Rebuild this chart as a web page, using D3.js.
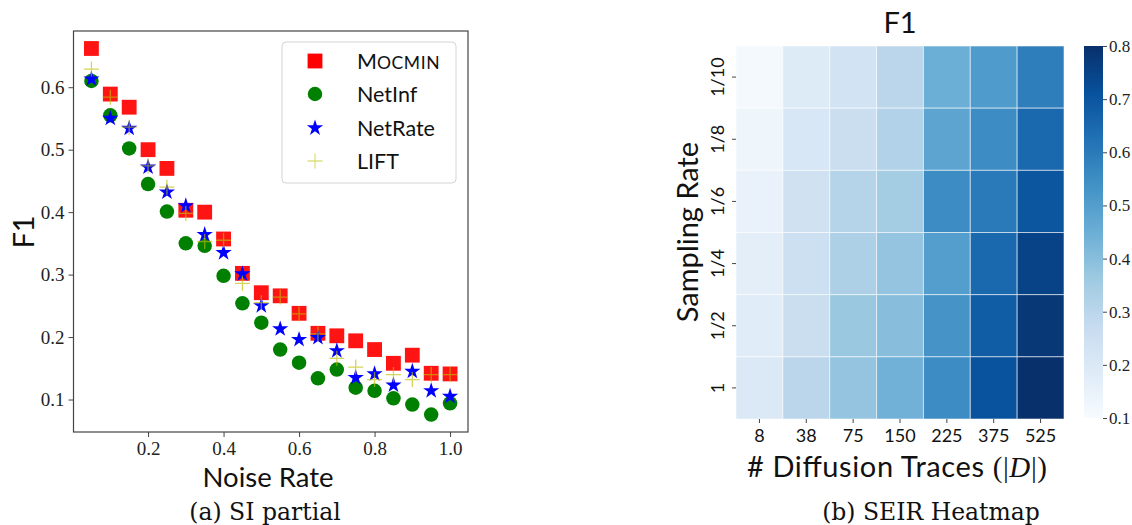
<!DOCTYPE html>
<html><head><meta charset="utf-8">
<script src="https://cdn.jsdelivr.net/npm/d3@7"></script>
<style>body{margin:0;background:#fff} svg{display:block}</style>
</head><body>
<svg id="c" width="1132" height="525"></svg>
<script>
// ---------- data: left panel (SI partial) ----------
const noiseRates = [0.05,0.10,0.15,0.20,0.25,0.30,0.35,0.40,0.45,0.50,0.55,0.60,0.65,0.70,0.75,0.80,0.85,0.90,0.95,1.00];
const mocmin  = [0.662,0.589,0.568,0.500,0.470,0.403,0.400,0.357,0.302,0.271,0.266,0.238,0.206,0.202,0.194,0.180,0.158,0.171,0.142,0.141];
const netinf  = [0.610,0.555,0.502,0.445,0.401,0.350,0.346,0.298,0.254,0.223,0.180,0.159,0.134,0.148,0.119,0.114,0.102,0.092,0.076,0.094];
const netrate = [0.613,0.550,0.534,0.472,0.432,0.410,0.364,0.335,0.301,0.250,0.213,0.196,0.199,0.178,0.135,0.141,0.123,0.145,0.114,0.105];
const lift    = [0.629,0.584,0.536,0.474,0.440,0.398,0.353,0.355,0.286,0.255,0.264,0.237,0.205,0.166,0.152,0.132,0.140,0.132,0.140,0.140];
const seriesNames = ["MOCMIN","NetInf","NetRate","LIFT"];
const xTicksLeft = [0.2,0.4,0.6,0.8,1.0];
const yTicksLeft = [0.1,0.2,0.3,0.4,0.5,0.6];

// ---------- data: right panel (SEIR heatmap) ----------
const traces = ["8","38","75","150","225","375","525"];
const samplingRates = ["1/10","1/8","1/6","1/4","1/2","1"];
const f1Heat = [
  [0.11,0.19,0.23,0.30,0.45,0.51,0.59],
  [0.13,0.21,0.26,0.32,0.48,0.55,0.65],
  [0.15,0.24,0.31,0.35,0.55,0.60,0.70],
  [0.17,0.25,0.33,0.38,0.50,0.65,0.75],
  [0.18,0.26,0.37,0.40,0.53,0.68,0.78],
  [0.20,0.30,0.38,0.44,0.55,0.71,0.80]
];
const cbTicks = [0.1,0.2,0.3,0.4,0.5,0.6,0.7,0.8];
const bluesStops = ["#f7fbff","#deebf7","#c6dbef","#9ecae1","#6baed6","#4292c6","#2171b5","#08519c","#08306b"];

const SANS = "Lato, 'Noto Sans', sans-serif";
const SERIF = "'Liberation Serif', 'Times New Roman', serif";
const SERIF2 = "'DejaVu Serif', serif";

const svg = d3.select("#c");

// ================= LEFT PANEL =================
const x = d3.scaleLinear().domain([0.0025,1.0475]).range([73.5,468]);
const y = d3.scaleLinear().domain([0.048,0.69]).range([432,31]);

const gL = svg.append("g");
const xAx = gL.append("g").attr("transform","translate(0,432)")
  .call(d3.axisBottom(x).tickValues(xTicksLeft).tickSize(5).tickPadding(5).tickFormat(d3.format(".1f")));
const yAx = gL.append("g").attr("transform","translate(73.5,0)")
  .call(d3.axisLeft(y).tickValues(yTicksLeft).tickSize(5).tickPadding(4).tickFormat(d3.format(".1f")));
[xAx,yAx].forEach(a=>{
  a.attr("font-family",null);
  a.select(".domain").remove();
  a.selectAll(".tick line").attr("stroke","#444").attr("stroke-width",1);
  a.selectAll(".tick text").style("font-family",SERIF).style("font-size","19px").attr("fill","#222");
});
gL.append("rect").attr("x",x.range()[0]).attr("y",y.range()[1])
  .attr("width",x.range()[1]-x.range()[0]).attr("height",y.range()[0]-y.range()[1])
  .attr("fill","none").attr("stroke","#444").attr("stroke-width",1.2);

const sq = d3.symbol().type(d3.symbolSquare).size(220);
const ci = d3.symbol().type(d3.symbolCircle).size(165);
const st = d3.symbol().type(d3.symbolStar).size(82);
const plusPath = r => `M${-r},0H${r}M0,${-r}V${r}`;

const pts = noiseRates.map((n,i)=>({n,i}));
const plotG = gL.append("g");
plotG.selectAll("path.m").data(pts).join("path")
  .attr("d",sq).attr("transform",d=>`translate(${x(d.n)},${y(mocmin[d.i])})`)
  .attr("fill","#ff0000").attr("opacity",0.92);
plotG.selectAll("path.n").data(pts).join("path")
  .attr("d",ci).attr("transform",d=>`translate(${x(d.n)},${y(netinf[d.i])})`)
  .attr("fill","#008000");
plotG.selectAll("path.r").data(pts).join("path")
  .attr("d",st).attr("transform",d=>`translate(${x(d.n)},${y(netrate[d.i])})`)
  .attr("fill","#0000ff");
plotG.selectAll("path.l").data(pts).join("path")
  .attr("d",plusPath(7.5)).attr("transform",d=>`translate(${x(d.n)},${y(lift[d.i])})`)
  .attr("fill","none").attr("stroke","#bfbf00").attr("stroke-opacity",0.65).attr("stroke-width",1.3);

// legend
const lg = gL.append("g");
lg.append("rect").attr("x",282).attr("y",42).attr("width",174).attr("height",141).attr("rx",4)
  .attr("fill","#fff").attr("fill-opacity",0.85).attr("stroke","#d4d4d4").attr("stroke-width",1);
const legRows = [61,94,128,161];
lg.append("path").attr("d",sq).attr("transform",`translate(315,${legRows[0]})`).attr("fill","#ff0000");
lg.append("path").attr("d",ci).attr("transform",`translate(315,${legRows[1]})`).attr("fill","#008000");
lg.append("path").attr("d",st).attr("transform",`translate(315,${legRows[2]})`).attr("fill","#0000ff");
lg.append("path").attr("d",plusPath(7.5)).attr("transform",`translate(315,${legRows[3]})`)
  .attr("fill","none").attr("stroke","#bfbf00").attr("stroke-opacity",0.5).attr("stroke-width",1.3);
seriesNames.forEach((nm,i)=>{
  const t = lg.append("text").attr("x",357).attr("y",legRows[i]+8)
    .style("font-family",SANS).style("font-size","21.5px").attr("fill","#111");
  if(i===0){
    t.append("tspan").text(nm[0]);
    t.append("tspan").style("font-size","17.5px").attr("letter-spacing",0.6).text(nm.slice(1));
  } else t.text(nm);
});

// labels
gL.append("text").attr("transform","translate(34,232) rotate(-90)").attr("text-anchor","middle")
  .style("font-family",SANS).style("font-size","29px").attr("fill","#111").text("F1");
gL.append("text").attr("x",268).attr("y",487).attr("text-anchor","middle")
  .style("font-family",SANS).style("font-size","27.5px").attr("fill","#111").text("Noise Rate");
gL.append("text").attr("x",265).attr("y",520).attr("text-anchor","middle")
  .style("font-family",SERIF2).style("font-size","23.5px").attr("fill","#111").text("(a) SI partial");

// ================= RIGHT PANEL =================
const hx = d3.scaleBand().domain(traces).range([736,1064]);
const hy = d3.scaleBand().domain(samplingRates).range([46,419]);
const color = d3.scaleLinear().domain(d3.range(9).map(i=>0.1+0.7*i/8)).range(bluesStops).clamp(true);

const gR = svg.append("g");
const cells = [];
samplingRates.forEach((r,ri)=>traces.forEach((t,ci)=>cells.push({r,t,v:f1Heat[ri][ci]})));
gR.selectAll("rect.cell").data(cells).join("rect")
  .attr("x",d=>hx(d.t)).attr("y",d=>hy(d.r))
  .attr("width",hx.bandwidth()).attr("height",hy.bandwidth())
  .attr("fill",d=>color(d.v)).attr("stroke","#ffffff").attr("stroke-opacity",0.55).attr("stroke-width",1);

const hxAx = gR.append("g").attr("transform","translate(0,419)")
  .call(d3.axisBottom(hx).tickSize(4).tickPadding(3));
hxAx.select(".domain").remove();
hxAx.selectAll(".tick line").attr("stroke","#444");
hxAx.selectAll(".tick text").style("font-family",SANS).style("font-size","18px").attr("fill","#111").attr("dy","0.9em");

const hyAx = gR.append("g").attr("transform","translate(736,0)")
  .call(d3.axisLeft(hy).tickSize(4).tickPadding(4));
hyAx.select(".domain").remove();
hyAx.selectAll(".tick line").attr("stroke","#444");
hyAx.selectAll(".tick text").style("font-family",SANS).style("font-size","18px").attr("fill","#111")
  .attr("dy",0).attr("text-anchor","middle").attr("transform","rotate(-90)")
  .attr("x",0).attr("y",-12);

// colorbar
const cb = d3.scaleLinear().domain([0.1,0.8]).range([418,46]);
const defs = svg.append("defs");
const grad = defs.append("linearGradient").attr("id","cbg").attr("x1",0).attr("y1",1).attr("x2",0).attr("y2",0);
grad.selectAll("stop").data(d3.range(0,1.0001,0.125)).join("stop")
  .attr("offset",d=>d).attr("stop-color",d=>color(0.1+0.7*d));
gR.append("rect").attr("x",1084).attr("y",cb.range()[1]).attr("width",19)
  .attr("height",cb.range()[0]-cb.range()[1]).attr("fill","url(#cbg)");
const cbAx = gR.append("g").attr("transform","translate(1103,0)")
  .call(d3.axisRight(cb).tickValues(cbTicks).tickSize(4).tickPadding(2).tickFormat(d3.format(".1f")));
cbAx.select(".domain").remove();
cbAx.selectAll(".tick line").attr("stroke","#444");
cbAx.selectAll(".tick text").style("font-family",SERIF).style("font-size","17px").attr("fill","#222");

// labels
gR.append("text").attr("x",900).attr("y",33).attr("text-anchor","middle")
  .style("font-family",SANS).style("font-size","29px").attr("fill","#111").text("F1");
gR.append("text").attr("transform","translate(698,232) rotate(-90)").attr("text-anchor","middle")
  .style("font-family",SANS).style("font-size","29px").attr("fill","#111").text("Sampling Rate");
const xl = gR.append("text").attr("x",897).attr("y",477).attr("text-anchor","middle")
  .attr("textLength",300).attr("lengthAdjust","spacing")
  .style("font-family",SANS).style("font-size","29px").attr("fill","#111");
xl.append("tspan").text("# Diffusion Traces ");
xl.append("tspan").style("font-family",SERIF).text("(|");
xl.append("tspan").style("font-family",SERIF).style("font-style","italic").text("D");
xl.append("tspan").style("font-family",SERIF).text("|)");
gR.append("text").attr("x",931).attr("y",520).attr("text-anchor","middle")
  .style("font-family",SERIF2).style("font-size","23.5px").attr("fill","#111").text("(b) SEIR Heatmap");
</script>
</body></html>
